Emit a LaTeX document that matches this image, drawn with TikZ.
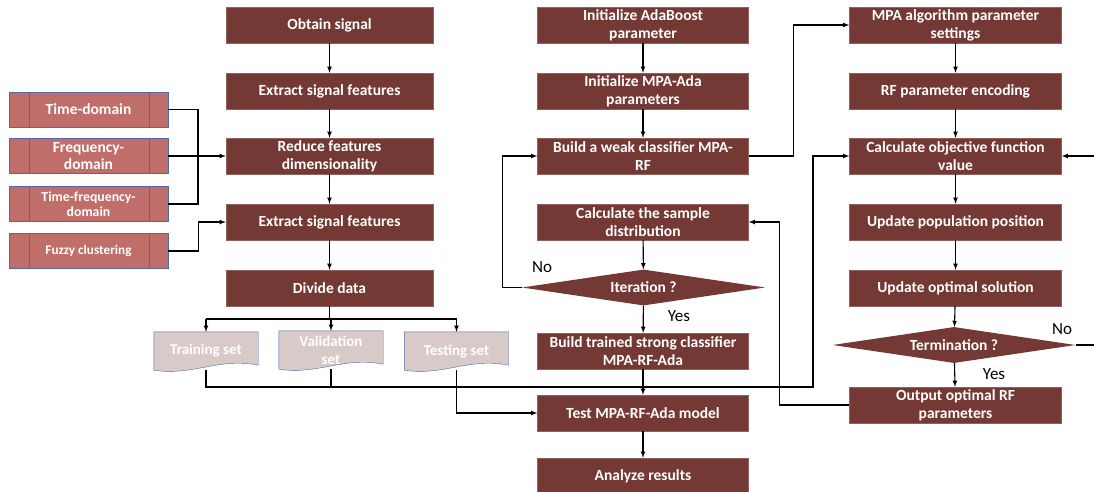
\documentclass[tikz,border=0pt]{standalone}
\usepackage{fontspec}
\setmainfont{Carlito}
\usetikzlibrary{shapes.geometric,scopes,backgrounds}
\definecolor{boxred}{HTML}{743934}
\definecolor{lightred}{HTML}{C06E69}
\definecolor{edgeblue}{HTML}{5068AE}
\definecolor{setfill}{HTML}{D9CACA}
\begin{document}
\begin{tikzpicture}[x=1pt,y=-1pt,>=latex,
    flow/.style={draw=black,line width=1.1pt},
    proc/.style={rectangle,fill=boxred,draw=boxred!80!white,thin,text=white,
        minimum height=36pt,inner sep=0pt,align=center,font=\fontsize{15.5}{18}\selectfont\bfseries},
    c1/.style={proc,minimum width=207pt},
    c2/.style={proc,minimum width=211pt},
    c3/.style={proc,minimum width=212pt},
    dec/.style={diamond,fill=boxred,text=white,minimum width=243pt,minimum height=36pt,
        aspect=6.75,inner sep=0pt,font=\fontsize{15.5}{18}\selectfont\bfseries},
    feat/.style={rectangle,fill=lightred,draw=edgeblue,thin,text=white,minimum width=159pt,
        minimum height=35pt,inner sep=0pt,align=center},
    dataset/.style={minimum width=104pt,minimum height=38pt,inner sep=0pt,align=center,
        text=white,font=\fontsize{15}{18}\selectfont\bfseries},
    lbl/.style={font=\fontsize{17}{19}\selectfont}
]
    \clip (0,0) rectangle (1094,492);
    % feature boxes
    \node[feat,font=\fontsize{15.5}{18}\selectfont\bfseries] (td) at (88.5,109.5) {Time-domain};
    \node[feat,font=\fontsize{15.5}{17}\selectfont\bfseries] (fd) at (88.5,156) {Frequency-\\domain};
    \node[feat,font=\fontsize{13.8}{15.5}\selectfont\bfseries] (tfd) at (88.5,204) {Time-frequency-\\domain};
    \node[feat,font=\fontsize{13.2}{15}\selectfont\bfseries] (fz) at (88.5,251) {Fuzzy clustering};
    \foreach \n in {td,fd,tfd,fz} {
        \draw[edgeblue,thin] ([xshift=20pt]\n.north west) -- ([xshift=20pt]\n.south west);
        \draw[edgeblue,thin] ([xshift=-19pt]\n.north east) -- ([xshift=-19pt]\n.south east);
    }
    % first column
    \node[c1] (ob) at (329.5,25) {Obtain signal};
    \node[c1] (ex1) at (329.5,91) {Extract signal features};
    \node[c1] (red) at (329.5,156) {Reduce features\\dimensionality};
    \node[c1] (ex2) at (329.5,222) {Extract signal features};
    \node[c1] (div) at (329.5,288) {Divide data};
    % data sets
    \node[dataset] (tr) at (206,351) {Training set};
    \node[dataset] (va) at (331,350) {Validation\\set};
    \node[dataset] (te) at (456.5,351) {Testing set};
    \begin{scope}[on background layer]
        \foreach \n in {tr,va,te}
            \filldraw[fill=setfill,draw=edgeblue,thin] (\n.north west) -- (\n.north east)
                -- ([yshift=5pt]\n.south east)
                .. controls ([xshift=-40pt,yshift=13pt]\n.south east) and ([xshift=40pt,yshift=-6pt]\n.south west)
                .. (\n.south west) -- cycle;
    \end{scope}
    % second column
    \node[c2] (ia) at (643,25) {Initialize AdaBoost\\parameter};
    \node[c2] (im) at (643,91) {Initialize MPA-Ada\\parameters};
    \node[c2] (weak) at (643,156) {Build a weak classifier MPA-\\RF};
    \node[c2] (csd) at (643,222) {Calculate the sample\\distribution};
    \node[dec] (it) at (643.5,287.5) {Iteration ?};
    \node[c2] (bt) at (643,351) {Build trained strong classifier\\MPA-RF-Ada};
    \node[c2] (test) at (643,413) {Test MPA-RF-Ada model};
    \node[c2] (an) at (643,476) {Analyze results};
    % third column
    \node[c3] (mpa) at (955.5,25) {MPA algorithm parameter\\settings};
    \node[c3] (enc) at (955.5,91) {RF parameter encoding};
    \node[c3] (cof) at (955.5,156) {Calculate objective function\\value};
    \node[c3] (upd) at (955.5,222) {Update population position};
    \node[c3] (opt) at (955.5,288) {Update optimal solution};
    \node[dec] (term) at (954,345) {Termination ?};
    \node[c3] (out) at (955.5,405) {Output optimal RF\\parameters};
    % labels
    \node[lbl] (no1) at (542,267) {No};
    \node[lbl] (yes1) at (679,316) {Yes};
    \node[lbl] (no2) at (1062,329) {No};
    \node[lbl] (yes2) at (994,374) {Yes};
    \coordinate (jl) at (198,156);
    \coordinate (sp) at (329.5,319);
    \coordinate (bx) at (813,387);
    {[flow,->]
        \draw (ob) -- (ex1);
        \draw (ex1) -- (red);
        \draw (red) -- (ex2);
        \draw (ex2) -- (div);
        \draw (fd.east) -- (red.west);
        \draw (fz.east) -- ++(30,0) |- (ex2.west);
        \draw (tr.north |- sp) -- (tr.north);
        \draw (va.north |- sp) -- (va.north);
        \draw (te.north |- sp) -- (te.north);
        \draw (tr.south) |- (bx) |- (cof.west);
        \draw (te.south) |- (test.west);
        \draw (ia) -- (im);
        \draw (im) -- (weak);
        \draw (csd) -- (it);
        \draw (it) -- (bt);
        \draw (bt) -- (test);
        \draw (test) -- (an);
        \draw (it.west) -- ++(-19,0) |- (weak.west);
        \draw (weak.east) -- ++(45,0) |- (mpa.west);
        \draw (mpa) -- (enc);
        \draw (enc) -- (cof);
        \draw (cof) -- (upd);
        \draw (upd) -- (opt);
        \draw (opt) -- (term);
        \draw (term) -- (out);
        \draw (term.east) -- ++(30,0) |- (cof.east);
        \draw (out.west) -- ++(-70,0) |- (csd.east);
    }
    {[flow]
        \draw (td.east) -| (jl);
        \draw (tfd.east) -| (jl);
        \draw (div.south) -- (sp);
        \draw (tr.north |- sp) -- (te.north |- sp);
        \draw (va.south) -- (va.south |- bx);
    }
\end{tikzpicture}
\end{document}
